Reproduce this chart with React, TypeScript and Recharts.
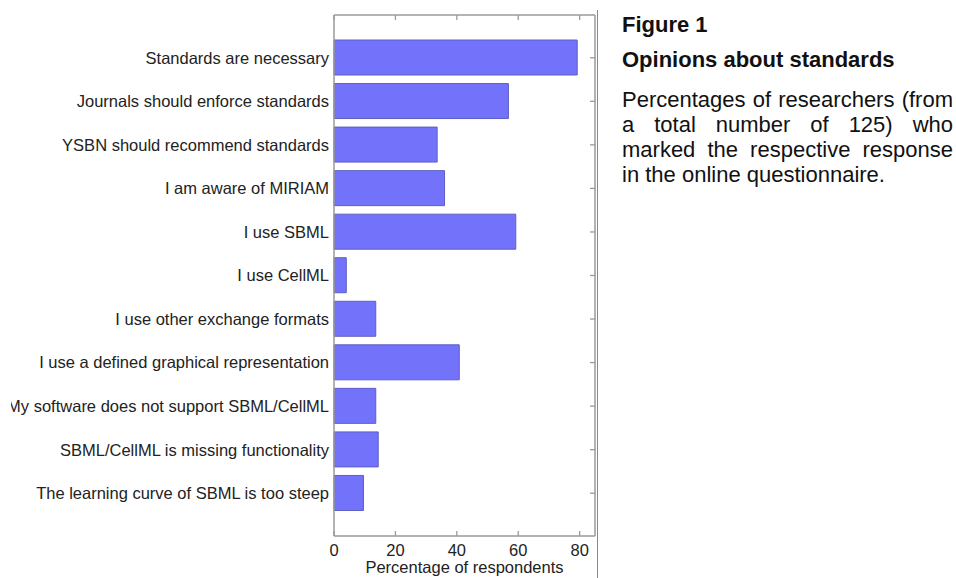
import { BarChart, Bar, XAxis, YAxis } from "recharts";

const RESPONSES = [
  "Standards are necessary",
  "Journals should enforce standards",
  "YSBN should recommend standards",
  "I am aware of MIRIAM",
  "I use SBML",
  "I use CellML",
  "I use other exchange formats",
  "I use a defined graphical representation",
  "My software does not support SBML/CellML",
  "SBML/CellML is missing functionality",
  "The learning curve of SBML is too steep",
];

// percent of 125 respondents
const PERCENT = [79.2, 56.8, 33.6, 36.0, 59.2, 4.0, 13.6, 40.8, 13.6, 14.4, 9.6];

const X_TICKS = [0, 20, 40, 60, 80];

const data = RESPONSES.map((r, i) => ({ response: r, percent: PERCENT[i] }));

const AXIS = "#9a9a9a";
const FONT = "'Liberation Sans', Arial, Helvetica, sans-serif";

const BottomTick = ({ x, y, payload }: any) => (
  <g>
    <line x1={x} x2={x} y1={y} y2={y - 5} stroke={AXIS} strokeWidth={1.3} />
    <text x={x} y={y + 20} textAnchor="middle" fill="#222" fontSize={16.5} fontFamily={FONT}>
      {payload.value}
    </text>
  </g>
);

const TopTick = ({ x, y }: any) => (
  <line x1={x} x2={x} y1={y} y2={y + 5} stroke={AXIS} strokeWidth={1.3} />
);

const RightTick = ({ x, y }: any) => (
  <line x1={x} x2={x - 5} y1={y} y2={y} stroke={AXIS} strokeWidth={1.3} />
);

const lineStyle = { fontSize: 22, lineHeight: "25px", color: "#111", fontFamily: FONT };

export default function App() {
  return (
    <div style={{ position: "absolute", left: 0, top: 0, width: 956, height: 578, background: "#fff" }}>
      <div style={{ position: "absolute", left: 11, top: 0, width: 586, height: 578, overflow: "hidden" }}>
        <BarChart
          width={586}
          height={578}
          data={data}
          layout="vertical"
          margin={{ top: 14, right: 1, bottom: 0, left: 0 }}
        >
          <XAxis
            type="number"
            domain={[0, 85]}
            ticks={X_TICKS}
            height={42}
            tickSize={0}
            tickMargin={0}
            tickLine={false}
            tick={<BottomTick />}
            axisLine={{ stroke: AXIS, strokeWidth: 1.5 }}
            label={{
              value: "Percentage of respondents",
              position: "insideBottom",
              offset: 5,
              fill: "#222",
              fontSize: 16.5,
              fontFamily: FONT,
            }}
          />
          <XAxis
            xAxisId="top"
            orientation="top"
            type="number"
            domain={[0, 85]}
            ticks={X_TICKS}
            height={1}
            tickSize={0}
            tickMargin={0}
            tickLine={false}
            tick={<TopTick />}
            axisLine={{ stroke: AXIS, strokeWidth: 1.5 }}
          />
          <YAxis
            yAxisId="left"
            type="category"
            dataKey="response"
            width={323}
            padding={{ top: 21, bottom: 21 }}
            tickSize={0}
            tickMargin={5}
            tickLine={false}
            interval={0}
            tick={{ fill: "#222", fontSize: 16.5, fontFamily: FONT }}
            axisLine={{ stroke: AXIS, strokeWidth: 1.5 }}
          />
          <YAxis
            yAxisId="right"
            orientation="right"
            type="category"
            dataKey="response"
            width={1}
            padding={{ top: 21, bottom: 21 }}
            tickSize={0}
            tickMargin={0}
            tickLine={false}
            interval={0}
            tick={<RightTick />}
            axisLine={{ stroke: AXIS, strokeWidth: 1.5 }}
          />
          <Bar
            yAxisId="left"
            dataKey="percent"
            barSize={35}
            fill="#7272fb"
            stroke="#5e5ec4"
            strokeWidth={1}
            isAnimationActive={false}
          />
          {/* mirror bar on the unused axes so recharts draws them */}
          <Bar
            xAxisId="top"
            yAxisId="right"
            dataKey="percent"
            barSize={0}
            fill="none"
            stroke="none"
            legendType="none"
            isAnimationActive={false}
          />
        </BarChart>
      </div>

      <div style={{ position: "absolute", left: 597, top: 10, width: 1, height: 568, background: "#8a8a8a" }} />

      <div style={{ position: "absolute", left: 622, top: 11.5, ...lineStyle, fontWeight: "bold" }}>Figure 1</div>
      <div style={{ position: "absolute", left: 622, top: 46.5, ...lineStyle, fontWeight: "bold" }}>
        Opinions about standards
      </div>
      <div style={{ position: "absolute", left: 622, top: 86.5, width: 331, ...lineStyle }}>
        <div style={{ textAlign: "justify", textAlignLast: "justify" }}>Percentages of researchers (from</div>
        <div style={{ textAlign: "justify", textAlignLast: "justify" }}>a total number of 125) who</div>
        <div style={{ textAlign: "justify", textAlignLast: "justify" }}>marked the respective response</div>
        <div>in the online questionnaire.</div>
      </div>
    </div>
  );
}
